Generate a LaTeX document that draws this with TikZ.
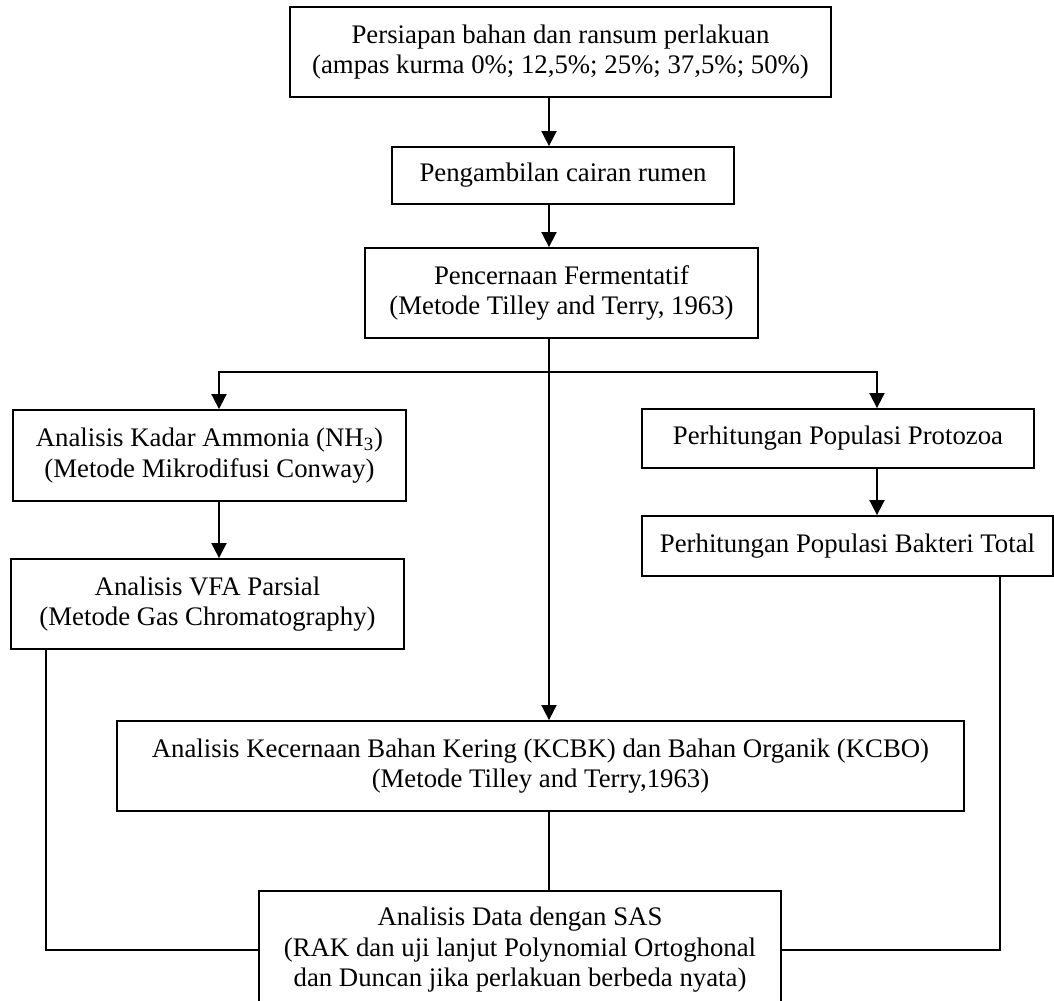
\documentclass[tikz,border=0pt]{standalone}
\usepackage{fontspec}
\setmainfont{Liberation Serif}
\usetikzlibrary{arrows.meta}

\tikzset{
  kotak/.style={draw, line width=0.85pt, align=center, inner sep=0pt,
    font=\fontsize{12.45}{14.2}\selectfont},
  panah/.style={line width=0.85pt, -{Triangle[length=7pt,width=7pt]}},
  garis/.style={line width=0.6pt}
}

\begin{document}
\begin{tikzpicture}[x=0.465pt, y=-0.465pt]
            \useasboundingbox (0,0) rectangle (1054,1001);

            % Kotak proses
            \node[kotak, minimum width=541*0.465pt, minimum height=90*0.465pt] (persiapan) at (560.5,52)
                {Persiapan bahan dan ransum perlakuan\\(ampas kurma 0\%; 12,5\%; 25\%; 37,5\%; 50\%)};
            \node[kotak, minimum width=342*0.465pt, minimum height=57*0.465pt] (cairan) at (563,175.5)
                {Pengambilan cairan rumen};
            \node[kotak, minimum width=393*0.465pt, minimum height=90*0.465pt] (fermentatif) at (561.5,293)
                {Pencernaan Fermentatif\\(Metode Tilley and Terry, 1963)};
            \node[kotak, minimum width=393*0.465pt, minimum height=91*0.465pt] (amonia) at (209.5,455.5)
                {Analisis Kadar Ammonia (NH\textsubscript{3})\\(Metode Mikrodifusi Conway)};
            \node[kotak, minimum width=392*0.465pt, minimum height=59*0.465pt] (protozoa) at (838,438.5)
                {Perhitungan Populasi Protozoa};
            \node[kotak, minimum width=393*0.465pt, minimum height=90*0.465pt] (vfa) at (207.5,604)
                {Analisis VFA Parsial\\(Metode Gas Chromatography)};
            \node[kotak, minimum width=411*0.465pt, minimum height=60*0.465pt] (bakteri) at (847.5,546)
                {Perhitungan Populasi Bakteri Total};
            \node[kotak, minimum width=847*0.465pt, minimum height=90*0.465pt] (kecernaan) at (540.5,766)
                {Analisis Kecernaan Bahan Kering (KCBK) dan Bahan Organik (KCBO)\\(Metode Tilley and Terry,1963)};
            \node[kotak, minimum width=522*0.465pt, minimum height=118*0.465pt] (sas) at (520,950)
                {Analisis Data dengan SAS\\(RAK dan uji lanjut Polynomial Ortoghonal\\dan Duncan jika perlakuan berbeda nyata)};

            % Jalur garis
            \coordinate (tengah) at (549,0);
            \coordinate (cabang) at (549,372);
            \coordinate (kiri) at (219,0);
            \coordinate (kanan) at (877,0);
            \coordinate (kiriluar) at (46,0);
            \coordinate (kananluar) at (1000,0);

            % Panah
            \draw[panah] (persiapan.south -| tengah) -- (cairan.north -| tengah);
            \draw[panah] (cairan.south -| tengah) -- (fermentatif.north -| tengah);
            \draw[panah] (fermentatif.south -| tengah) -- (kecernaan.north -| tengah);
            \draw[panah] (cabang) -| (kiri |- amonia.north);
            \draw[panah] (cabang) -| (kanan |- protozoa.north);
            \draw[panah] (amonia.south -| kiri) -- (vfa.north -| kiri);
            \draw[panah] (protozoa.south -| kanan) -- (bakteri.north -| kanan);

            % Garis ke analisis data
            \draw[garis] (kecernaan.south -| tengah) -- (sas.north -| tengah);
            \draw[garis] (vfa.south -| kiriluar) |- (sas.west);
            \draw[garis] (bakteri.south -| kananluar) |- (sas.east);
        \end{tikzpicture}
\end{document}
